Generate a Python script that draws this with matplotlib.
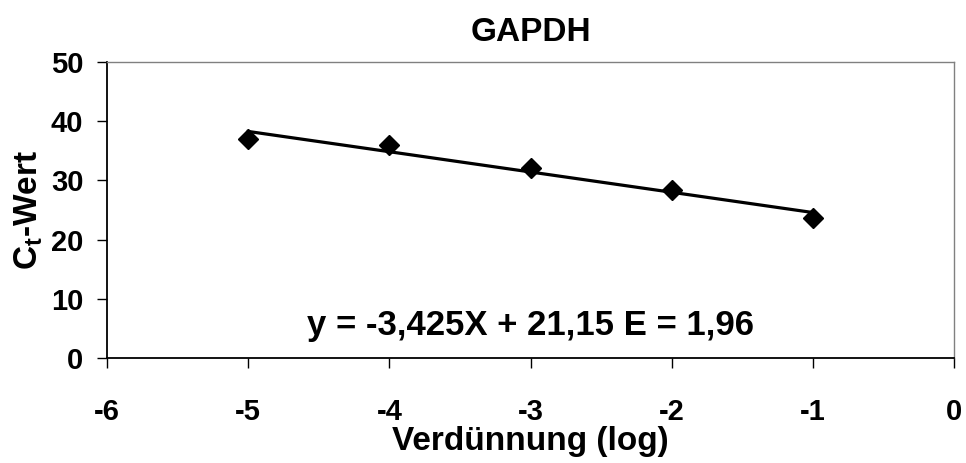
import numpy as np
import matplotlib
matplotlib.use("Agg")
import matplotlib.pyplot as plt

# Verdünnungsreihe GAPDH
dilution_log = [-5, -4, -3, -2, -1]
ct_values = [37.0, 36.0, 32.1, 28.4, 23.6]

# Trendlinie aus der Gleichung im Diagramm
slope = -3.425
intercept = 21.15
eq_label = "y = -3,425X + 21,15 E = 1,96"

x_ticks = [-6, -5, -4, -3, -2, -1, 0]
y_ticks = [0, 10, 20, 30, 40, 50]

plt.rcParams['font.family'] = ['Liberation Sans', 'DejaVu Sans']
plt.rcParams['font.weight'] = 'bold'
plt.rcParams['axes.unicode_minus'] = False
plt.rcParams['mathtext.fontset'] = 'custom'
plt.rcParams['mathtext.rm'] = 'Liberation Sans:bold'
plt.rcParams['mathtext.it'] = 'Liberation Sans:bold'
plt.rcParams['mathtext.bf'] = 'Liberation Sans:bold'

fig = plt.figure(figsize=(9.66, 4.63), dpi=100)
ax = fig.add_axes([0.1108, 0.2268, 0.8768, 0.6392])

fit_x = np.array([dilution_log[0], dilution_log[-1]])
ax.plot(fit_x, slope * fit_x + intercept, color='black', lw=2.3, zorder=2)
ax.plot(dilution_log, ct_values, 'D', color='black', markersize=10, zorder=3)

ax.set_xlim(-6, 0)
ax.set_ylim(0, 50)
ax.set_xticks(x_ticks)
ax.set_yticks(y_ticks)
ax.tick_params(axis='both', direction='out', length=7, width=1, labelsize=21)
ax.tick_params(axis='y', pad=10)
ax.tick_params(axis='x', pad=22)
for lab in ax.get_xticklabels() + ax.get_yticklabels():
    lab.set_fontweight('bold')

for s in ['left', 'bottom']:
    ax.spines[s].set_color('black')
    ax.spines[s].set_linewidth(1.3)
for s in ['top', 'right']:
    ax.spines[s].set_color('#808080')
    ax.spines[s].set_linewidth(1.0)

ax.text(-3.0, 5.5, eq_label, ha='center', va='center', fontsize=25, fontweight='bold')

ax.set_title('GAPDH', fontsize=24, fontweight='bold', pad=15)
ax.set_xlabel('Verdünnung (log)', fontsize=24, fontweight='bold', labelpad=0)
ax.set_ylabel('C$_t$-Wert', fontsize=24, fontweight='bold', labelpad=4)

fig.savefig('out.png', dpi=100)
